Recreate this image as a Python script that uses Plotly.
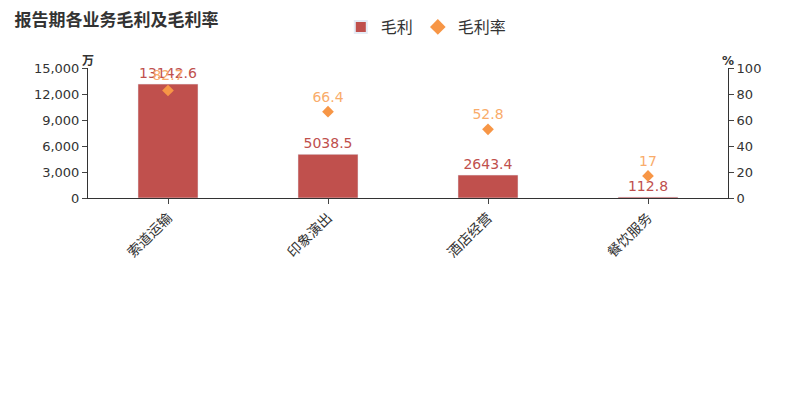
import plotly.graph_objects as go

categories = ["索道运输", "印象演出", "酒店经营", "餐饮服务"]
gross_profit = [13142.6, 5038.5, 2643.4, 112.8]
margin = [82.7, 66.4, 52.8, 17]

font = "DejaVu Sans, Noto Sans CJK SC"
fig = go.Figure()
fig.add_bar(x=categories, y=gross_profit, name="毛利", marker_color="#c0504d", width=0.375,
            text=[f"{v:g}" for v in gross_profit], textposition="outside",
            textfont=dict(color="#c0504d", size=14), cliponaxis=False)
fig.add_scatter(x=categories, y=margin, name="毛利率", yaxis="y2", mode="markers+text",
                marker=dict(symbol="diamond", color="#f79646", size=9),
                text=[f"{v:g}" for v in margin], textposition="top center",
                textfont=dict(color="#f9ac6b", size=14), cliponaxis=False)
fig.update_layout(
    width=800, height=400, margin=dict(l=80, r=80, t=60, b=210, autoexpand=False),
    plot_bgcolor="white", paper_bgcolor="white", font=dict(family=font, color="#333"),
    title=dict(text="<b>报告期各业务毛利及毛利率</b>", x=0.008, y=0.985, yanchor="top",
               font=dict(size=17, color="#333")),
    legend=dict(orientation="h", x=0.395, y=0.995, yref="container", yanchor="top",
                font=dict(size=16), itemsizing="constant"),
    bargap=0.6,
    xaxis=dict(showline=True, linecolor="#333", ticks="outside", tickangle=-45,
               tickfont=dict(size=14), automargin=False),
    yaxis=dict(range=[0, 15000], dtick=3000, tickformat=",", showline=True, linecolor="#333",
               ticks="outside", showgrid=False, tickfont=dict(size=13), automargin=False),
    yaxis2=dict(range=[0, 100], dtick=20, overlaying="y", side="right", showline=True,
                linecolor="#333", ticks="outside", showgrid=False, tickfont=dict(size=13),
                automargin=False),
    annotations=[
        dict(text="<b>万</b>", x=0, xref="paper", xanchor="center", y=1.12, yref="paper",
             showarrow=False, font=dict(size=12)),
        dict(text="<b>%</b>", x=1, xref="paper", xanchor="center", y=1.12, yref="paper",
             showarrow=False, font=dict(size=12)),
    ],
)
fig.write_html("out.html")
